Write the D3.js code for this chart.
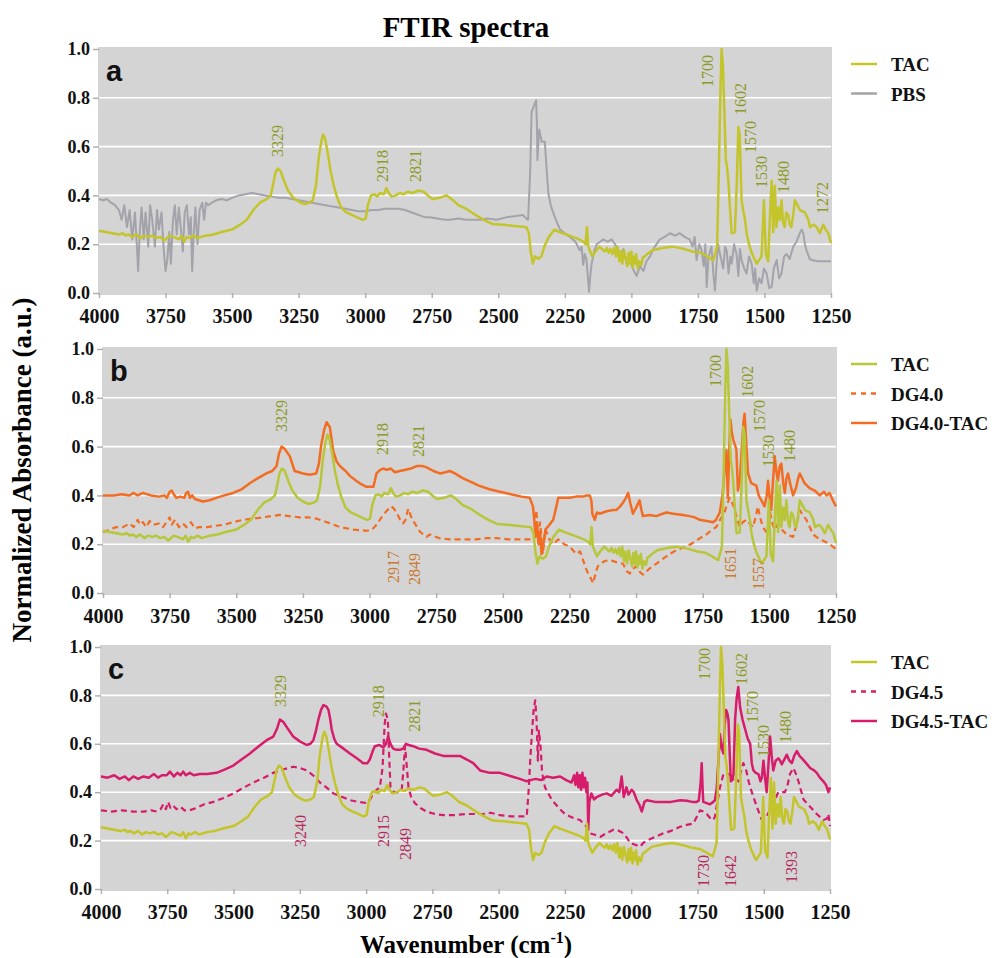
<!DOCTYPE html>
<html>
<head>
<meta charset="utf-8">
<title>FTIR spectra</title>
<script src="https://cdn.jsdelivr.net/npm/d3@7"></script>
<style>
  body { margin: 0; background: #fff; }
</style>
</head>
<body>
<div id="chart"></div>
<script>
/* ---- data: [wavenumber (cm-1), normalized absorbance] ---- */
const tac = [[4000,0.255],[3975,0.25],[3950,0.245],[3925,0.24],[3910,0.245],[3900,0.235],[3890,0.24],[3875,0.23],[3860,0.24],[3845,0.225],[3830,0.235],[3815,0.23],[3800,0.235],[3785,0.225],[3770,0.23],[3755,0.215],[3745,0.225],[3735,0.235],[3720,0.23],[3700,0.22],[3690,0.235],[3680,0.21],[3670,0.23],[3660,0.225],[3645,0.235],[3630,0.225],[3600,0.235],[3570,0.24],[3540,0.25],[3500,0.26],[3470,0.28],[3445,0.30],[3420,0.34],[3396,0.37],[3370,0.385],[3355,0.40],[3345,0.45],[3338,0.49],[3329,0.51],[3318,0.50],[3305,0.46],[3290,0.42],[3270,0.39],[3250,0.375],[3230,0.365],[3210,0.37],[3197,0.38],[3185,0.44],[3175,0.55],[3165,0.62],[3158,0.65],[3150,0.63],[3140,0.57],[3130,0.50],[3118,0.44],[3105,0.39],[3090,0.35],[3070,0.33],[3050,0.32],[3030,0.31],[3010,0.30],[2998,0.305],[2990,0.36],[2978,0.40],[2965,0.405],[2955,0.395],[2945,0.41],[2930,0.405],[2920,0.43],[2912,0.41],[2900,0.395],[2885,0.40],[2870,0.41],[2855,0.405],[2840,0.415],[2821,0.41],[2800,0.42],[2780,0.415],[2765,0.40],[2747,0.385],[2720,0.39],[2695,0.40],[2675,0.385],[2650,0.36],[2620,0.345],[2600,0.33],[2571,0.31],[2545,0.295],[2522,0.283],[2480,0.28],[2440,0.275],[2395,0.27],[2385,0.245],[2378,0.17],[2370,0.12],[2362,0.15],[2350,0.14],[2338,0.15],[2327,0.19],[2310,0.23],[2289,0.26],[2270,0.25],[2245,0.24],[2220,0.23],[2196,0.22],[2180,0.21],[2172,0.20],[2167,0.27],[2162,0.19],[2147,0.15],[2135,0.17],[2120,0.19],[2100,0.17],[2092,0.185],[2085,0.165],[2078,0.18],[2071,0.16],[2064,0.185],[2058,0.15],[2052,0.19],[2045,0.13],[2040,0.17],[2034,0.12],[2028,0.175],[2021,0.14],[2015,0.11],[2010,0.165],[2005,0.12],[2000,0.17],[1995,0.105],[1990,0.15],[1986,0.12],[1982,0.16],[1976,0.10],[1970,0.13],[1963,0.115],[1957,0.145],[1950,0.15],[1940,0.16],[1921,0.175],[1900,0.18],[1880,0.185],[1846,0.19],[1820,0.185],[1800,0.18],[1771,0.17],[1740,0.165],[1715,0.15],[1700,0.14],[1692,0.135],[1678,0.19],[1671,0.52],[1665,0.85],[1661,1.0],[1656,0.93],[1652,0.79],[1645,0.545],[1641,0.52],[1635,0.45],[1628,0.32],[1623,0.245],[1611,0.25],[1604,0.45],[1598,0.68],[1593,0.65],[1586,0.38],[1580,0.34],[1573,0.30],[1567,0.245],[1558,0.20],[1548,0.165],[1538,0.14],[1529,0.12],[1520,0.135],[1511,0.15],[1505,0.30],[1502,0.38],[1498,0.26],[1495,0.16],[1486,0.13],[1480,0.30],[1473,0.46],[1467,0.25],[1461,0.44],[1455,0.27],[1448,0.35],[1442,0.30],[1436,0.38],[1430,0.29],[1424,0.27],[1418,0.33],[1411,0.32],[1405,0.28],[1399,0.27],[1392,0.32],[1386,0.38],[1376,0.36],[1367,0.34],[1348,0.33],[1335,0.30],[1329,0.27],[1315,0.28],[1304,0.27],[1292,0.245],[1285,0.265],[1279,0.28],[1270,0.26],[1260,0.245],[1250,0.205]];

const pbs = [[4000,0.385],[3985,0.38],[3970,0.385],[3955,0.37],[3940,0.36],[3925,0.34],[3915,0.30],[3905,0.36],[3895,0.27],[3885,0.34],[3875,0.22],[3865,0.33],[3858,0.20],[3853,0.09],[3847,0.25],[3840,0.35],[3832,0.22],[3825,0.33],[3815,0.19],[3808,0.36],[3800,0.30],[3790,0.19],[3782,0.34],[3775,0.26],[3765,0.33],[3757,0.18],[3750,0.09],[3743,0.14],[3736,0.25],[3730,0.12],[3722,0.30],[3715,0.36],[3708,0.24],[3700,0.35],[3692,0.26],[3685,0.17],[3678,0.33],[3670,0.36],[3662,0.24],[3655,0.31],[3650,0.09],[3645,0.22],[3638,0.35],[3630,0.20],[3622,0.34],[3612,0.37],[3605,0.30],[3598,0.37],[3590,0.36],[3575,0.37],[3560,0.38],[3540,0.385],[3520,0.38],[3500,0.39],[3475,0.40],[3450,0.405],[3425,0.41],[3400,0.405],[3375,0.40],[3350,0.395],[3325,0.39],[3300,0.39],[3275,0.385],[3250,0.38],[3225,0.375],[3200,0.37],[3175,0.365],[3150,0.36],[3125,0.355],[3100,0.35],[3075,0.345],[3050,0.34],[3025,0.335],[3000,0.335],[2975,0.34],[2950,0.34],[2925,0.345],[2900,0.345],[2875,0.345],[2850,0.34],[2825,0.33],[2800,0.32],[2775,0.31],[2757,0.31],[2730,0.305],[2700,0.30],[2682,0.30],[2650,0.305],[2620,0.30],[2600,0.30],[2569,0.30],[2540,0.305],[2507,0.30],[2470,0.31],[2440,0.315],[2407,0.32],[2395,0.305],[2388,0.30],[2380,0.50],[2375,0.74],[2365,0.77],[2358,0.79],[2355,0.70],[2353,0.545],[2349,0.62],[2346,0.67],[2337,0.62],[2325,0.62],[2318,0.50],[2312,0.41],[2303,0.36],[2294,0.33],[2280,0.29],[2268,0.26],[2250,0.245],[2231,0.23],[2210,0.21],[2194,0.175],[2187,0.19],[2181,0.115],[2175,0.16],[2169,0.14],[2163,0.06],[2159,0.005],[2155,0.06],[2150,0.115],[2140,0.17],[2130,0.20],[2118,0.21],[2105,0.22],[2090,0.21],[2074,0.22],[2056,0.19],[2040,0.16],[2030,0.18],[2018,0.12],[2005,0.14],[1995,0.10],[1980,0.07],[1968,0.11],[1955,0.09],[1943,0.13],[1930,0.15],[1912,0.19],[1893,0.22],[1875,0.23],[1855,0.245],[1835,0.235],[1818,0.245],[1800,0.23],[1781,0.22],[1770,0.19],[1762,0.23],[1755,0.135],[1745,0.20],[1736,0.175],[1728,0.11],[1722,0.20],[1717,0.025],[1710,0.15],[1699,0.19],[1692,0.08],[1686,0.01],[1680,0.12],[1674,0.20],[1667,0.16],[1655,0.10],[1648,0.19],[1642,0.175],[1635,0.08],[1628,0.15],[1623,0.12],[1614,0.20],[1605,0.16],[1598,0.07],[1592,0.18],[1586,0.135],[1576,0.10],[1567,0.08],[1558,0.15],[1548,0.12],[1540,0.04],[1535,0.10],[1529,0.01],[1520,0.06],[1511,0.04],[1502,0.10],[1492,0.08],[1482,0.02],[1473,0.025],[1465,0.10],[1454,0.135],[1445,0.06],[1436,0.08],[1426,0.15],[1417,0.16],[1405,0.14],[1392,0.19],[1380,0.21],[1367,0.245],[1360,0.26],[1354,0.245],[1348,0.20],[1342,0.175],[1330,0.14],[1323,0.135],[1300,0.13],[1275,0.13],[1250,0.13]];

const dg40 = [[4000,0.25],[3975,0.26],[3950,0.27],[3925,0.27],[3900,0.285],[3885,0.27],[3870,0.30],[3862,0.28],[3850,0.29],[3838,0.27],[3825,0.295],[3810,0.28],[3790,0.285],[3775,0.27],[3762,0.29],[3750,0.31],[3742,0.28],[3730,0.30],[3715,0.27],[3700,0.285],[3687,0.27],[3670,0.29],[3655,0.265],[3640,0.27],[3612,0.27],[3580,0.275],[3545,0.28],[3512,0.29],[3475,0.30],[3437,0.305],[3400,0.31],[3370,0.315],[3337,0.32],[3300,0.315],[3262,0.31],[3230,0.31],[3200,0.305],[3160,0.29],[3111,0.27],[3060,0.26],[3011,0.255],[2990,0.26],[2974,0.28],[2955,0.31],[2937,0.335],[2918,0.355],[2908,0.345],[2899,0.33],[2885,0.30],[2874,0.285],[2865,0.30],[2855,0.345],[2843,0.31],[2830,0.285],[2810,0.25],[2786,0.23],[2774,0.24],[2740,0.225],[2699,0.22],[2649,0.22],[2600,0.22],[2560,0.225],[2524,0.225],[2480,0.22],[2440,0.22],[2399,0.22],[2380,0.23],[2374,0.34],[2368,0.22],[2360,0.29],[2350,0.16],[2340,0.26],[2325,0.22],[2311,0.20],[2292,0.22],[2270,0.20],[2249,0.19],[2224,0.16],[2210,0.17],[2199,0.135],[2188,0.10],[2180,0.08],[2170,0.06],[2161,0.04],[2150,0.09],[2143,0.11],[2120,0.13],[2099,0.135],[2070,0.125],[2049,0.12],[2035,0.09],[2024,0.08],[2010,0.10],[1999,0.11],[1985,0.085],[1974,0.075],[1950,0.10],[1924,0.12],[1900,0.14],[1886,0.15],[1874,0.16],[1850,0.175],[1811,0.19],[1780,0.21],[1760,0.225],[1736,0.24],[1715,0.26],[1699,0.27],[1685,0.30],[1668,0.33],[1660,0.36],[1649,0.39],[1640,0.37],[1632,0.35],[1620,0.30],[1611,0.27],[1600,0.29],[1586,0.30],[1574,0.285],[1561,0.27],[1552,0.31],[1543,0.355],[1535,0.31],[1524,0.27],[1505,0.24],[1497,0.33],[1490,0.29],[1480,0.26],[1470,0.28],[1461,0.27],[1436,0.24],[1411,0.23],[1398,0.28],[1386,0.34],[1375,0.32],[1361,0.30],[1336,0.24],[1311,0.22],[1290,0.21],[1274,0.20],[1250,0.18]];

const dg40tac = [[4000,0.40],[3960,0.40],[3930,0.405],[3900,0.40],[3887,0.41],[3870,0.40],[3850,0.41],[3820,0.40],[3790,0.395],[3770,0.40],[3760,0.39],[3750,0.415],[3742,0.42],[3735,0.405],[3725,0.39],[3710,0.395],[3695,0.39],[3688,0.41],[3681,0.415],[3674,0.39],[3665,0.40],[3655,0.385],[3640,0.38],[3625,0.375],[3600,0.38],[3575,0.39],[3545,0.40],[3512,0.41],[3480,0.425],[3449,0.45],[3420,0.47],[3387,0.49],[3365,0.50],[3349,0.52],[3340,0.57],[3330,0.60],[3318,0.59],[3299,0.56],[3281,0.50],[3265,0.495],[3249,0.49],[3225,0.485],[3200,0.49],[3190,0.53],[3181,0.61],[3170,0.67],[3161,0.70],[3149,0.68],[3136,0.58],[3124,0.54],[3111,0.52],[3090,0.50],[3074,0.48],[3050,0.46],[3030,0.445],[3011,0.435],[2986,0.435],[2980,0.46],[2974,0.49],[2960,0.505],[2949,0.51],[2935,0.505],[2920,0.51],[2905,0.495],[2886,0.50],[2865,0.505],[2845,0.51],[2824,0.52],[2800,0.52],[2786,0.515],[2760,0.50],[2736,0.49],[2715,0.495],[2699,0.50],[2680,0.49],[2649,0.47],[2620,0.455],[2590,0.44],[2550,0.425],[2511,0.415],[2470,0.405],[2430,0.395],[2399,0.39],[2387,0.355],[2382,0.30],[2377,0.23],[2372,0.29],[2366,0.20],[2360,0.25],[2355,0.16],[2348,0.20],[2340,0.26],[2325,0.28],[2311,0.30],[2300,0.35],[2292,0.39],[2270,0.39],[2249,0.39],[2225,0.395],[2199,0.395],[2185,0.40],[2174,0.40],[2168,0.38],[2164,0.325],[2155,0.30],[2147,0.33],[2137,0.325],[2110,0.335],[2086,0.34],[2074,0.34],[2060,0.355],[2049,0.37],[2038,0.39],[2030,0.41],[2022,0.37],[2012,0.325],[2000,0.35],[1987,0.38],[1980,0.34],[1974,0.315],[1950,0.32],[1924,0.315],[1900,0.325],[1886,0.33],[1860,0.325],[1824,0.32],[1800,0.315],[1780,0.31],[1761,0.30],[1735,0.295],[1711,0.29],[1700,0.30],[1686,0.33],[1676,0.40],[1671,0.46],[1665,0.55],[1661,0.585],[1656,0.39],[1650,0.60],[1646,0.71],[1641,0.66],[1636,0.63],[1624,0.59],[1618,0.42],[1611,0.46],[1603,0.60],[1597,0.70],[1593,0.735],[1586,0.60],[1580,0.49],[1568,0.45],[1549,0.44],[1540,0.40],[1530,0.38],[1518,0.355],[1510,0.40],[1505,0.46],[1498,0.38],[1493,0.34],[1487,0.45],[1480,0.56],[1474,0.50],[1468,0.46],[1461,0.52],[1455,0.53],[1448,0.45],[1442,0.41],[1436,0.47],[1430,0.49],[1420,0.44],[1411,0.40],[1400,0.43],[1392,0.47],[1386,0.49],[1377,0.47],[1368,0.45],[1349,0.43],[1330,0.42],[1311,0.40],[1295,0.415],[1285,0.40],[1274,0.41],[1262,0.38],[1250,0.355]];

const dg45 = [[4000,0.325],[3960,0.32],[3920,0.325],[3878,0.32],[3840,0.32],[3810,0.325],[3790,0.32],[3775,0.33],[3765,0.35],[3755,0.33],[3747,0.36],[3738,0.335],[3728,0.345],[3715,0.33],[3700,0.34],[3685,0.325],[3667,0.325],[3640,0.335],[3610,0.35],[3576,0.36],[3540,0.375],[3501,0.395],[3460,0.42],[3425,0.44],[3385,0.46],[3350,0.48],[3310,0.495],[3275,0.505],[3250,0.50],[3224,0.49],[3200,0.47],[3174,0.44],[3150,0.42],[3123,0.395],[3090,0.38],[3061,0.367],[3030,0.36],[2998,0.355],[2985,0.37],[2973,0.395],[2960,0.41],[2948,0.42],[2938,0.50],[2930,0.68],[2925,0.725],[2918,0.70],[2913,0.55],[2908,0.42],[2895,0.40],[2880,0.40],[2866,0.405],[2860,0.48],[2853,0.59],[2846,0.50],[2840,0.42],[2830,0.38],[2816,0.355],[2795,0.335],[2772,0.32],[2740,0.31],[2709,0.305],[2670,0.305],[2621,0.31],[2590,0.31],[2558,0.31],[2530,0.315],[2495,0.305],[2450,0.30],[2394,0.30],[2386,0.42],[2381,0.53],[2374,0.65],[2368,0.74],[2362,0.78],[2357,0.70],[2352,0.53],[2348,0.655],[2342,0.59],[2336,0.48],[2325,0.42],[2300,0.37],[2285,0.35],[2269,0.33],[2250,0.31],[2231,0.30],[2210,0.29],[2193,0.285],[2180,0.27],[2168,0.257],[2155,0.23],[2140,0.225],[2117,0.215],[2095,0.23],[2067,0.245],[2045,0.24],[2029,0.23],[2015,0.21],[2004,0.19],[1990,0.185],[1966,0.175],[1955,0.19],[1941,0.20],[1910,0.215],[1879,0.23],[1850,0.24],[1816,0.257],[1790,0.265],[1766,0.27],[1752,0.30],[1740,0.325],[1728,0.32],[1715,0.31],[1700,0.29],[1690,0.285],[1684,0.30],[1678,0.34],[1665,0.42],[1652,0.475],[1640,0.48],[1633,0.475],[1614,0.46],[1596,0.445],[1585,0.49],[1577,0.52],[1568,0.50],[1556,0.44],[1545,0.40],[1526,0.34],[1507,0.285],[1497,0.29],[1489,0.30],[1470,0.34],[1445,0.40],[1420,0.40],[1410,0.43],[1401,0.475],[1388,0.50],[1380,0.48],[1369,0.445],[1350,0.37],[1325,0.34],[1300,0.31],[1275,0.285],[1262,0.29],[1256,0.31],[1250,0.26]];

const dg45tac = [[4000,0.465],[3975,0.46],[3950,0.47],[3930,0.455],[3910,0.465],[3895,0.45],[3878,0.465],[3860,0.455],[3840,0.465],[3820,0.46],[3800,0.475],[3785,0.46],[3770,0.47],[3752,0.47],[3740,0.485],[3725,0.465],[3712,0.48],[3700,0.47],[3690,0.485],[3680,0.47],[3665,0.48],[3650,0.47],[3627,0.475],[3600,0.475],[3564,0.48],[3530,0.495],[3501,0.51],[3470,0.535],[3438,0.56],[3405,0.59],[3375,0.615],[3350,0.63],[3337,0.66],[3325,0.70],[3312,0.69],[3300,0.67],[3275,0.63],[3250,0.61],[3224,0.595],[3210,0.60],[3199,0.615],[3190,0.65],[3180,0.70],[3170,0.74],[3161,0.76],[3150,0.755],[3142,0.74],[3135,0.70],[3130,0.66],[3120,0.62],[3111,0.60],[3085,0.58],[3061,0.56],[3035,0.54],[3011,0.52],[2995,0.52],[2986,0.535],[2975,0.57],[2967,0.59],[2950,0.595],[2935,0.585],[2925,0.60],[2917,0.63],[2908,0.60],[2898,0.58],[2885,0.575],[2873,0.575],[2860,0.58],[2850,0.60],[2840,0.595],[2822,0.59],[2800,0.58],[2772,0.575],[2740,0.56],[2709,0.55],[2680,0.55],[2646,0.55],[2620,0.535],[2596,0.52],[2570,0.49],[2533,0.48],[2495,0.48],[2450,0.465],[2420,0.455],[2394,0.445],[2380,0.45],[2360,0.455],[2340,0.45],[2319,0.465],[2295,0.46],[2268,0.465],[2245,0.45],[2225,0.44],[2215,0.47],[2210,0.43],[2204,0.48],[2199,0.42],[2194,0.47],[2189,0.41],[2184,0.48],[2179,0.42],[2174,0.46],[2169,0.40],[2165,0.44],[2162,0.245],[2158,0.36],[2150,0.395],[2140,0.37],[2130,0.38],[2110,0.39],[2092,0.395],[2075,0.385],[2055,0.41],[2045,0.40],[2036,0.465],[2028,0.38],[2018,0.42],[2010,0.39],[1998,0.41],[1990,0.40],[1979,0.367],[1970,0.35],[1960,0.32],[1950,0.36],[1941,0.367],[1910,0.36],[1878,0.36],[1850,0.36],[1815,0.367],[1790,0.365],[1770,0.36],[1753,0.36],[1745,0.365],[1738,0.44],[1734,0.52],[1730,0.40],[1728,0.36],[1715,0.355],[1703,0.35],[1690,0.36],[1684,0.367],[1677,0.42],[1671,0.53],[1665,0.64],[1658,0.58],[1652,0.56],[1647,0.68],[1642,0.74],[1637,0.725],[1633,0.70],[1628,0.55],[1624,0.445],[1618,0.45],[1614,0.475],[1608,0.70],[1602,0.79],[1596,0.835],[1589,0.75],[1580,0.70],[1570,0.66],[1560,0.62],[1551,0.60],[1545,0.52],[1539,0.49],[1530,0.48],[1520,0.475],[1512,0.445],[1507,0.46],[1501,0.53],[1495,0.46],[1489,0.40],[1483,0.50],[1476,0.63],[1470,0.55],[1464,0.49],[1455,0.53],[1445,0.54],[1438,0.53],[1432,0.515],[1420,0.54],[1413,0.555],[1403,0.53],[1394,0.52],[1385,0.55],[1375,0.57],[1365,0.55],[1356,0.54],[1340,0.52],[1325,0.50],[1310,0.49],[1300,0.48],[1288,0.46],[1275,0.445],[1265,0.43],[1256,0.40],[1250,0.42]];

/* peak labels: [text, wavenumber, absorbance where the label starts] */
const peaksA = [["3329",3328,0.557],["2918",2937,0.455],["2821",2811,0.455],["1700",1716,0.844],["1602",1592,0.73],["1570",1551,0.574],["1530",1510,0.43],["1480",1427,0.41],["1272",1281,0.324]];
const peaksB = [["3329",3332,0.66],["2918",2953,0.566],["2821",2818,0.557],["1700",1704,0.844],["1602",1584,0.80],["1570",1538,0.66],["1530",1505,0.516],["1480",1426,0.537]];
const peaksBdg = [["2917",2912,0.041],["2849",2833,0.033],["1651",1647,0.053],["1557",1542,0.012]];
const peaksC = [["3329",3325,0.752],["2918",2955,0.71],["2821",2819,0.65],["1700",1725,0.864],["1602",1586,0.843],["1570",1544,0.686],["1530",1503,0.545],["1480",1420,0.603]];
const peaksCdg = [["3240",3249,0.174],["2915",2936,0.174],["2849",2853,0.12],["1730",1729,0.008],["1642",1627,0.008],["1393",1397,0.025]];

const xTicks = [4000, 3750, 3500, 3250, 3000, 2750, 2500, 2250, 2000, 1750, 1500, 1250];
const yTicks = [0, 0.2, 0.4, 0.6, 0.8, 1.0];
const gridTicks = [0.2, 0.4, 0.6, 0.8];

document.addEventListener("DOMContentLoaded", function() {
  "use strict";

  const w = 997;
  const h = 958;
  const serif = "Liberation Serif, Times New Roman, serif";
  const sans = "Liberation Sans, Arial, sans-serif";

  const colTac = "#c4c42b";
  const colTacB = "#b8c63a";   // TAC looks a touch greener in panel b
  const colPbs = "#a3a3ab";
  const colOrange = "#f26c22";
  const colPink = "#d61c6b";
  const colTacLabel = "#8e9a26";
  const colOrangeLabel = "#c97a30";
  const colPinkLabel = "#b42a5f";

  // each panel: box on the page + what is drawn in it (bottom to top)
  const panels = [
    { letter: "a", left: 99, right: 831, top: 49, bottom: 293,
      series: [
        { name: "PBS", data: pbs, color: colPbs, width: 2, dash: null },
        { name: "TAC", data: tac, color: colTac, width: 2.5, dash: null }
      ],
      legend: ["TAC", "PBS"],
      labels: [{ list: peaksA, color: colTacLabel }] },
    { letter: "b", left: 103, right: 836, top: 349, bottom: 593,
      series: [
        { name: "DG4.0", data: dg40, color: colOrange, width: 2.2, dash: "6,4" },
        { name: "DG4.0-TAC", data: dg40tac, color: colOrange, width: 2.5, dash: null },
        { name: "TAC", data: tac, color: colTacB, width: 2.5, dash: null }
      ],
      legend: ["TAC", "DG4.0", "DG4.0-TAC"],
      labels: [{ list: peaksB, color: colTacLabel }, { list: peaksBdg, color: colOrangeLabel }] },
    { letter: "c", left: 101, right: 830, top: 647, bottom: 889,
      series: [
        { name: "DG4.5", data: dg45, color: colPink, width: 2.2, dash: "6,4" },
        { name: "DG4.5-TAC", data: dg45tac, color: colPink, width: 2.5, dash: null },
        { name: "TAC", data: tac, color: colTac, width: 2.5, dash: null }
      ],
      legend: ["TAC", "DG4.5", "DG4.5-TAC"],
      labels: [{ list: peaksC, color: colTacLabel }, { list: peaksCdg, color: colPinkLabel }] }
  ];

  const svg = d3.select("#chart")
    .append("svg")
    .attr("width", w)
    .attr("height", h)
    .attr("font-family", serif);

  //---------------------------------------------------
  /* title and shared axis titles */
  svg.append("text")
    .attr("x", 466)
    .attr("y", 37)
    .attr("text-anchor", "middle")
    .attr("font-family", serif)
    .attr("font-size", 29)
    .attr("font-weight", "bold")
    .text("FTIR spectra");

  svg.append("text")
    .attr("transform", "translate(31, 470) rotate(-90)")
    .attr("text-anchor", "middle")
    .attr("font-family", serif)
    .attr("font-size", 27)
    .attr("font-weight", "bold")
    .text("Normalized Absorbance (a.u.)");

  const xTitle = svg.append("text")
    .attr("x", 466)
    .attr("y", 953)
    .attr("text-anchor", "middle")
    .attr("font-family", serif)
    .attr("font-size", 25)
    .attr("font-weight", "bold");
  xTitle.append("tspan").text("Wavenumber (cm");
  xTitle.append("tspan").attr("dy", -10).attr("font-size", 16).text("-1");
  xTitle.append("tspan").attr("dy", 10).text(")");

  //---------------------------------------------------
  panels.forEach(function(p) {
    const xScale = d3.scaleLinear().domain([4000, 1250]).range([p.left, p.right]);
    const yScale = d3.scaleLinear().domain([0, 1]).range([p.bottom, p.top]);

    const g = svg.append("g").attr("class", "panel-" + p.letter);

    // gray plot background
    g.append("rect")
      .attr("x", p.left - 1)
      .attr("y", p.top - 2)
      .attr("width", p.right - p.left + 2)
      .attr("height", p.bottom - p.top + 4)
      .attr("fill", "#d4d4d4");

    // white grid lines
    g.selectAll(".grid")
      .data(gridTicks).enter()
      .append("line")
      .attr("class", "grid")
      .attr("x1", p.left)
      .attr("x2", p.right)
      .attr("y1", d => yScale(d))
      .attr("y2", d => yScale(d))
      .attr("stroke", "#fff")
      .attr("stroke-width", 1.6);

    // axes
    const xAxis = d3.axisBottom(xScale)
      .tickValues(xTicks)
      .tickSize(5)
      .tickPadding(11)
      .tickFormat(d3.format("d"));
    const gx = g.append("g")
      .attr("transform", `translate(0, ${p.bottom})`)
      .call(xAxis)
      .attr("font-family", serif)
      .attr("font-size", 20)
      .attr("font-weight", "bold");
    gx.select(".domain").remove();
    gx.selectAll(".tick line").attr("stroke", "#b0b0b0").attr("stroke-width", 1.5);
    gx.selectAll(".tick text").attr("fill", "#111");

    const yAxis = d3.axisLeft(yScale)
      .tickValues(yTicks)
      .tickSize(6)
      .tickPadding(3)
      .tickFormat(d3.format(".1f"));
    const gy = g.append("g")
      .attr("transform", `translate(${p.left}, 0)`)
      .call(yAxis)
      .attr("font-family", serif)
      .attr("font-size", 18)
      .attr("font-weight", "bold");
    gy.select(".domain").remove();
    gy.selectAll(".tick line").attr("stroke", "#b0b0b0").attr("stroke-width", 1.5);
    gy.selectAll(".tick text").attr("fill", "#111");

    // spectra
    const line = d3.line()
      .x(d => xScale(d[0]))
      .y(d => yScale(d[1]));

    g.selectAll(".spectrum")
      .data(p.series).enter()
      .append("path")
      .attr("class", "spectrum")
      .attr("d", d => line(d.data))
      .attr("fill", "none")
      .attr("stroke", d => d.color)
      .attr("stroke-width", d => d.width)
      .attr("stroke-dasharray", d => d.dash)
      .attr("stroke-linejoin", "round");

    // rotated peak labels
    p.labels.forEach(function(set) {
      g.selectAll(null)
        .data(set.list).enter()
        .append("text")
        .attr("transform", d => `translate(${xScale(d[1])}, ${yScale(d[2])}) rotate(-90)`)
        .attr("dy", "0.35em")
        .attr("font-family", serif)
        .attr("font-size", 16)
        .attr("fill", set.color)
        .text(d => d[0]);
    });

    // panel letter
    g.append("text")
      .attr("x", p.left + 7)
      .attr("y", p.top + 32)
      .attr("font-family", sans)
      .attr("font-weight", "bold")
      .attr("font-size", 29)
      .attr("fill", "#111")
      .text(p.letter);

    // legend
    const legend = g.append("g")
      .attr("transform", `translate(851, ${p.top + 15})`);
    const items = legend.selectAll("g")
      .data(p.legend.map(n => p.series.find(s => s.name === n))).enter()
      .append("g")
      .attr("transform", (d, i) => `translate(0, ${i * 29.5})`);
    items.append("line")
      .attr("x1", 0)
      .attr("x2", 26)
      .attr("stroke", d => d.color)
      .attr("stroke-width", 2.5)
      .attr("stroke-dasharray", d => d.dash ? "5,5" : null);
    items.append("text")
      .attr("x", 40)
      .attr("y", 7)
      .attr("font-family", serif)
      .attr("font-size", 19)
      .attr("font-weight", "bold")
      .attr("fill", "#111")
      .text(d => d.name);
  });
});
</script>
</body>
</html>
